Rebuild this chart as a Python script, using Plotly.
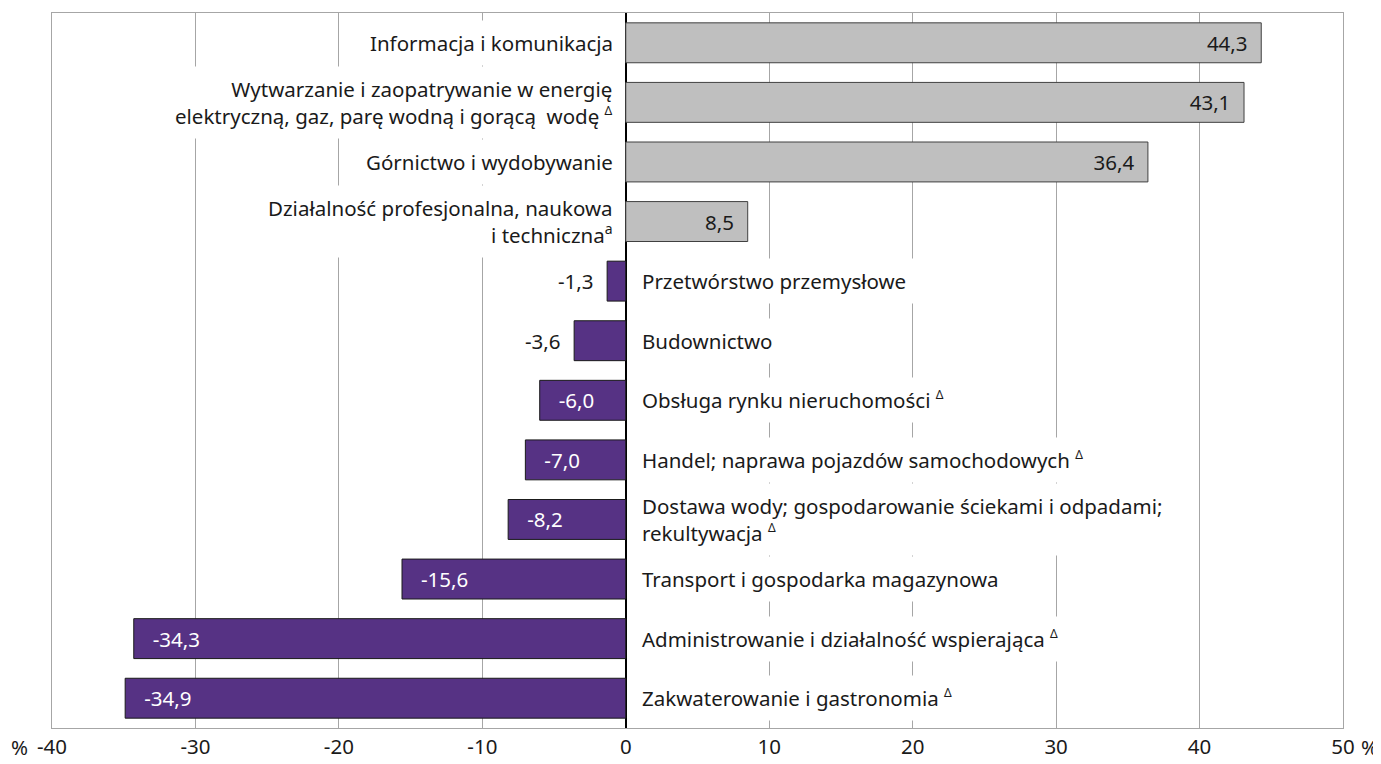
import plotly.graph_objects as go

D = '<sup><span style="font-size:12px">Δ</span></sup>'
A = '<sup><span style="font-size:14px">a</span></sup>'
categories = [
    "Informacja i komunikacja",
    "Wytwarzanie i zaopatrywanie w energię<br>elektryczną, gaz, parę wodną i gorącą  wodę " + D,
    "Górnictwo i wydobywanie",
    "Działalność profesjonalna, naukowa<br>i techniczna" + A,
    "Przetwórstwo przemysłowe",
    "Budownictwo",
    "Obsługa rynku nieruchomości " + D,
    "Handel; naprawa pojazdów samochodowych " + D,
    "Dostawa wody; gospodarowanie ściekami i odpadami;<br>rekultywacja " + D,
    "Transport i gospodarka magazynowa",
    "Administrowanie i działalność wspierająca " + D,
    "Zakwaterowanie i gastronomia " + D,
]
values = [44.3, 43.1, 36.4, 8.5, -1.3, -3.6, -6.0, -7.0, -8.2, -15.6, -34.3, -34.9]
tick_vals = [-40, -30, -20, -10, 0, 10, 20, 30, 40, 50]
tick_text = ["-40", "-30", "-20", "-10", "0", "10", "20", "30", "40", "50"]

FONT = "Noto Sans, Open Sans, sans-serif"
FS = 20.5
GRAY = "#BFBFBF"
PURPLE = "#563284"
NB = "\u00a0"

colors, lines, texts, positions, tcolors = [], [], [], [], []
for v in values:
    s = f"{v:.1f}".replace(".", ",")
    if v >= 0:
        colors.append(GRAY); lines.append("#404040")
        texts.append(s + NB * 2); positions.append("inside"); tcolors.append("#1a1a1a")
    elif abs(v) < 5:
        colors.append(PURPLE); lines.append("#1a1a1a")
        texts.append(s + NB * 2); positions.append("outside"); tcolors.append("#1a1a1a")
    else:
        colors.append(PURPLE); lines.append("#1a1a1a")
        texts.append(NB * 3 + s); positions.append("inside"); tcolors.append("white")

fig = go.Figure(go.Bar(
    x=values, y=categories, orientation="h",
    marker=dict(color=colors, line=dict(color=lines, width=1)),
    text=texts, textposition=positions, insidetextanchor="end",
    textfont=dict(family=FONT, size=FS, color=tcolors),
    constraintext="none", cliponaxis=False, hoverinfo="skip",
))

annotations = []
for c, v in zip(categories, values):
    if v >= 0:
        annotations.append(dict(x=0, y=c, xref="x", yref="y", text=c, showarrow=False,
                                xanchor="right", align="right", xshift=-4,
                                bgcolor="white", borderpad=8,
                                font=dict(family=FONT, size=FS, color="#1a1a1a")))
    else:
        annotations.append(dict(x=0, y=c, xref="x", yref="y", text=c, showarrow=False,
                                xanchor="left", align="left", xshift=7,
                                bgcolor="white", borderpad=8,
                                font=dict(family=FONT, size=FS, color="#1a1a1a")))

annotations.append(dict(x=0, y=0, xref="paper", yref="paper", text="%", showarrow=False,
                        xanchor="right", yanchor="middle", xshift=-22, yshift=-19,
                        font=dict(family=FONT, size=FS, color="#1a1a1a")))
annotations.append(dict(x=1, y=0, xref="paper", yref="paper", text="%", showarrow=False,
                        xanchor="left", yanchor="middle", xshift=16, yshift=-19,
                        font=dict(family=FONT, size=FS, color="#1a1a1a")))

fig.update_layout(
    width=1373, height=756,
    margin=dict(l=44, r=38, t=4, b=35),
    paper_bgcolor="white", plot_bgcolor="white",
    showlegend=False, bargap=0.33,
    annotations=annotations,
    font=dict(family=FONT, size=FS, color="#1a1a1a"),
    xaxis=dict(range=[-40, 50], tickvals=tick_vals, ticktext=tick_text,
               showgrid=True, gridcolor="#A6A6A6", gridwidth=1,
               zeroline=True, zerolinecolor="black", zerolinewidth=2,
               showline=True, linecolor="#A6A6A6", linewidth=1, mirror=True,
               ticks="", tickfont=dict(family=FONT, size=FS, color="#1a1a1a"),
               fixedrange=True),
    yaxis=dict(categoryorder="array", categoryarray=categories, autorange="reversed",
               showticklabels=False, showgrid=False, ticks="",
               showline=True, linecolor="#A6A6A6", linewidth=1, mirror=True,
               fixedrange=True),
)

fig.write_html("out.html")
